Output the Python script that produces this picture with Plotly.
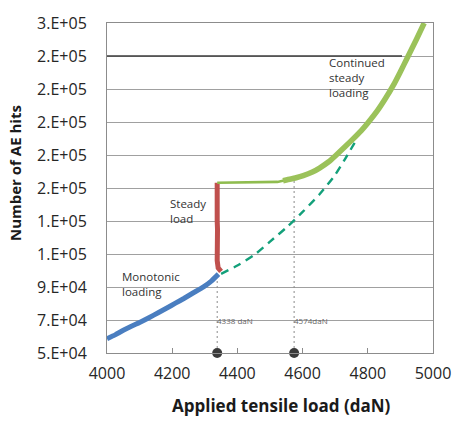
import plotly.graph_objects as go

# Axis ticks and their printed labels (spreadsheet-style rounding)
y_tick_vals = [50000, 70000, 90000, 110000, 130000, 150000, 170000, 190000, 210000, 230000, 250000]
y_tick_text = ["5.E+04", "7.E+04", "9.E+04", "1.E+05", "1.E+05", "2.E+05", "2.E+05",
               "2.E+05", "2.E+05", "2.E+05", "3.E+05"]
x_tick_vals = [4000, 4200, 4400, 4600, 4800, 5000]

# Monotonic loading phase
mono_load = [4000, 4025, 4050, 4078, 4100, 4130, 4157, 4185, 4210, 4237, 4265, 4296, 4320, 4342]
mono_hits = [58700, 61000, 63800, 66500, 68500, 71500, 74400, 77400, 80200, 83200, 86500, 90100, 93600, 97800]

# Steady load phase
steady_load = [4350, 4341, 4338, 4339, 4338, 4340, 4339, 4338, 4339, 4338, 4339, 4338, 4338, 4338]
steady_hits = [99500, 101500, 106000, 110000, 115000, 120000, 125000, 130000, 135000, 140000,
               145000, 149000, 152000, 153200]

# Continued steady loading: near-flat plateau, then the rising branch
plateau_load = [4338, 4400, 4460, 4523, 4553]
plateau_hits = [153200, 153300, 153500, 153700, 155000]
rise_load = [4540, 4553, 4580, 4602, 4630, 4652, 4680, 4701, 4730, 4751, 4780, 4800, 4830,
             4855, 4879, 4900, 4919, 4949, 4973]
rise_hits = [154400, 155000, 156200, 157500, 159700, 162100, 165900, 169600, 175000, 179000,
             184800, 189400, 197000, 204500, 212500, 220500, 228000, 240000, 250000]

# Extrapolated monotonic trend (dashed)
trend_load = [4350, 4400, 4454, 4500, 4553, 4600, 4652, 4700, 4731, 4766]
trend_hits = [98000, 103000, 109800, 117500, 126500, 135500, 146200, 158000, 167800, 179600]

# Reference level line
ref_load = [4000, 4905]
ref_hits = [230000, 230000]

# Load markers on the x axis
marker_loads = [4338, 4574]
marker_tops = [98500, 156000]
marker_labels = ["4338 daN", "4574daN"]

Y_MIN, Y_MAX = 50000, 250000
FONT = "Open Sans"

fig = go.Figure()

# dotted guide lines from the axis up to the curves
for xl, yt in zip(marker_loads, marker_tops):
    fig.add_trace(go.Scatter(x=[xl, xl], y=[Y_MIN, yt], mode="lines",
                             line=dict(color="#8a8a8a", width=1, dash="2px,3px"),
                             hoverinfo="skip", showlegend=False))

fig.add_trace(go.Scatter(x=ref_load, y=ref_hits, mode="lines",
                         line=dict(color="#3c3c3c", width=1.6), showlegend=False))

fig.add_trace(go.Scatter(x=trend_load, y=trend_hits, mode="lines",
                         line=dict(color="#13a07a", width=2.4, dash="8px,6px",
                                   shape="spline", smoothing=0.6),
                         showlegend=False))

fig.add_trace(go.Scatter(x=mono_load, y=mono_hits, mode="lines",
                         line=dict(color="#4a7ec0", width=5, shape="spline", smoothing=0.5),
                         showlegend=False))

fig.add_trace(go.Scatter(x=steady_load, y=steady_hits, mode="lines",
                         line=dict(color="#c0504d", width=5), showlegend=False))

fig.add_trace(go.Scatter(x=plateau_load, y=plateau_hits, mode="lines",
                         line=dict(color="#8fbc4f", width=2.6), showlegend=False))

fig.add_trace(go.Scatter(x=rise_load, y=rise_hits, mode="lines",
                         line=dict(color="#9bc25a", width=5.5, shape="spline", smoothing=0.6),
                         showlegend=False))

fig.add_trace(go.Scatter(x=marker_loads, y=[Y_MIN] * len(marker_loads), mode="markers",
                         marker=dict(color="#3a3a3a", size=10), cliponaxis=False,
                         showlegend=False))

for xl, txt in zip(marker_loads, marker_labels):
    fig.add_annotation(x=xl, y=70000, text=txt, showarrow=False, xanchor="left",
                       yanchor="middle", xshift=-2,
                       font=dict(family=FONT, size=8, color="#666666"))

label_font = dict(family=FONT, size=11.5, color="#333333")
fig.add_annotation(xref="paper", yref="paper", x=(170 - 107) / 337, y=(353 - 207) / 339,
                   text="Steady<br>load", showarrow=False, xanchor="left", yanchor="middle",
                   align="left", font=label_font)
fig.add_annotation(xref="paper", yref="paper", x=(120 - 107) / 337, y=(353 - 282) / 339,
                   text="Monotonic<br>loading", showarrow=False, xanchor="left", yanchor="middle",
                   align="left", font=label_font)
fig.add_annotation(xref="paper", yref="paper", x=(334 - 107) / 337, y=(353 - 70) / 339,
                   text="Continued<br>steady<br>loading", showarrow=False, xanchor="left",
                   yanchor="middle", align="left", font=label_font)

# axis titles
fig.add_annotation(xref="paper", yref="paper", x=(287 - 107) / 337, y=(353 - 407) / 339,
                   text="<b>Applied tensile load (daN)</b>", showarrow=False,
                   xanchor="center", yanchor="middle",
                   font=dict(family=FONT, size=17, color="#1a1a1a"))
fig.add_annotation(xref="paper", yref="paper", x=(12 - 107) / 337, y=(353 - 168) / 339,
                   text="<b>Number of AE hits</b>", showarrow=False, textangle=-90,
                   xanchor="center", yanchor="middle",
                   font=dict(family=FONT, size=15, color="#1a1a1a"))

fig.update_xaxes(range=[4000, 5000], tickvals=x_tick_vals, showgrid=False, zeroline=False,
                 showline=True, mirror=True, linecolor="#8c8c8c", linewidth=1,
                 ticks="inside", ticklen=5, tickcolor="#8c8c8c", ticklabelstandoff=6,
                 tickfont=dict(family=FONT, size=16, color="#262626"))
fig.update_yaxes(range=[Y_MIN, Y_MAX], tickvals=y_tick_vals, ticktext=y_tick_text,
                 showgrid=True, gridcolor="#a0a0a0", gridwidth=1, zeroline=False,
                 showline=True, mirror=True, linecolor="#8c8c8c", linewidth=1,
                 ticks="", ticklabelstandoff=16,
                 tickfont=dict(family=FONT, size=16, color="#262626"))

fig.update_layout(width=463, height=421, margin=dict(l=107, r=19, t=14, b=68),
                  paper_bgcolor="white", plot_bgcolor="white", showlegend=False)

fig.write_html("out.html")
